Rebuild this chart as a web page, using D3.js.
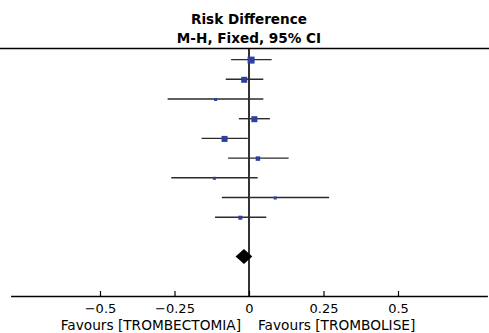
<!DOCTYPE html>
<html>
<head>
<meta charset="utf-8">
<script src="https://cdn.jsdelivr.net/npm/d3@7"></script>
<style>
  body { margin: 0; background: #fff; }
  text { font-family: "DejaVu Sans", sans-serif; fill: #000; }
</style>
</head>
<body>
<script>
const svgWidth = 489;
const svgHeight = 333;

// study estimates (risk difference) and 95% CI
const estimates = [0.007, -0.016, -0.112, 0.018, -0.082, 0.030, -0.116, 0.088, -0.029];
const lower = [-0.060, -0.078, -0.273, -0.034, -0.159, -0.070, -0.261, -0.091, -0.114];
const upper = [0.076, 0.048, 0.048, 0.070, -0.004, 0.133, 0.029, 0.269, 0.058];
// weights (%) estimated from the square sizes
const weights = [22.3, 16.4, 4.1, 16.4, 16.4, 9.1, 4.1, 4.1, 7.3];

// pooled estimate
const pooled = {est: -0.017, lo: -0.045, hi: 0.011};

const tickValues = [-0.5, -0.25, 0, 0.25, 0.5];
const titleLines = ['Risk Difference', 'M-H, Fixed, 95% CI'];
const favoursLeft = 'Favours [TROMBECTOMIA]';
const favoursRight = 'Favours [TROMBOLISE]';

const studies = estimates.map((d, i) => ({est: d, lo: lower[i], hi: upper[i], w: weights[i], row: i}));

const svg = d3.select('body')
              .append('svg')
              .attr('width', svgWidth)
              .attr('height', svgHeight);

const x = d3.scaleLinear().domain([-0.8, 0.8]).range([10.6, 487.4]);
const y = d3.scaleLinear().domain([0, 12]).range([59.6, 296]);
const size = d3.scaleSqrt().domain([0, d3.max(weights)]).range([0, 7]);

// title
svg.selectAll('text.title')
   .data(titleLines)
   .enter().append('text')
   .attr('class', 'title')
   .attr('x', x(0))
   .attr('y', (d, i) => 24 + i * 19)
   .attr('text-anchor', 'middle')
   .style('font-weight', 'bold')
   .style('font-size', '13.6px')
   .text(d => d);

// header rule
svg.append('line')
   .attr('x1', 0).attr('x2', svgWidth)
   .attr('y1', 48.5).attr('y2', 48.5)
   .attr('stroke', '#000')
   .attr('stroke-width', 1.5);

// line of no effect
svg.append('line')
   .attr('x1', x(0)).attr('x2', x(0))
   .attr('y1', 48.5).attr('y2', y(12))
   .attr('stroke', '#000')
   .attr('stroke-width', 1.6);

// confidence intervals
svg.selectAll('line.ci')
   .data(studies)
   .enter().append('line')
   .attr('class', 'ci')
   .attr('x1', d => x(d.lo))
   .attr('x2', d => x(d.hi))
   .attr('y1', d => y(d.row))
   .attr('y2', d => y(d.row))
   .attr('stroke', '#2b2b2b')
   .attr('stroke-width', 1.4);

// weight squares
svg.selectAll('rect.box')
   .data(studies)
   .enter().append('rect')
   .attr('class', 'box')
   .attr('x', d => x(d.est) - size(d.w) / 2)
   .attr('y', d => y(d.row) - size(d.w) / 2 + 0.5)
   .attr('width', d => size(d.w))
   .attr('height', d => size(d.w))
   .attr('fill', '#2f3f9f');

// pooled diamond
const py = y(10);
svg.append('path')
   .attr('d', `M${x(pooled.lo)},${py} L${x(pooled.est)},${py - 7.5} L${x(pooled.hi)},${py} L${x(pooled.est)},${py + 7.5} Z`)
   .attr('fill', '#000');

// axis
const axis = svg.append('g')
   .attr('transform', `translate(0,${y(12)})`)
   .call(d3.axisBottom(x)
           .tickValues(tickValues)
           .tickFormat(d3.format('~g'))
           .tickSizeInner(-5)
           .tickSizeOuter(0)
           .tickPadding(8));

axis.select('.domain').attr('stroke-width', 1.5);
axis.selectAll('.tick line').attr('stroke-width', 1.2);
axis.selectAll('.tick text')
    .style('font-family', '"DejaVu Sans", sans-serif')
    .style('font-size', '13px');

// favours labels
svg.append('text')
   .attr('x', x(0) - 8)
   .attr('y', 330)
   .attr('text-anchor', 'end')
   .style('font-size', '13.7px')
   .text(favoursLeft);

svg.append('text')
   .attr('x', x(0) + 9)
   .attr('y', 330)
   .style('font-size', '13.7px')
   .text(favoursRight);
</script>
</body>
</html>
